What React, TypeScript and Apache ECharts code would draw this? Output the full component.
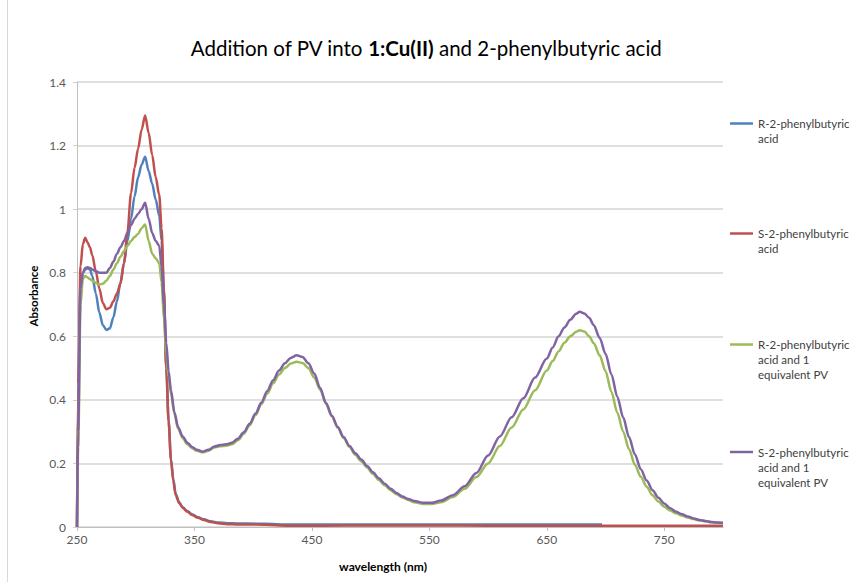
import React, { useEffect, useRef } from "react";
import * as echarts from "echarts";

// wavelengths (nm) for the ligand-only spectra
const wlA = [250, 251, 253, 255, 257, 259, 261, 263, 266, 269, 272, 275, 278, 281, 284, 287, 290, 293, 296, 299, 302, 305, 308, 311, 314, 317, 320, 322, 324, 326, 328, 330, 332, 334, 337, 340, 344, 348, 353, 358, 364, 370, 378, 386, 395, 410, 430, 460, 500, 550, 600, 650, 697, 750, 800];

const rAcid = [0, 0.4, 0.76, 0.8, 0.81, 0.815, 0.81, 0.79,
  0.735, 0.675, 0.635, 0.62, 0.625, 0.66, 0.71, 0.77,
  0.83, 0.9, 0.97, 1.04, 1.1, 1.14, 1.165, 1.12, 1.08, 1.03, 0.98,
  0.9, 0.74, 0.5, 0.335, 0.215, 0.15, 0.105, 0.078, 0.062, 0.05, 0.04,
  0.031, 0.024, 0.018, 0.014, 0.012, 0.011, 0.011,
  0.01, 0.008, 0.008, 0.008, 0.008, 0.008, 0.008, 0.008];

const sAcid = [0, 0.45, 0.82, 0.89, 0.91, 0.895, 0.88, 0.855,
  0.805, 0.75, 0.705, 0.685, 0.69, 0.71, 0.735, 0.765,
  0.83, 0.93, 1.05, 1.13, 1.19, 1.25, 1.295, 1.24, 1.17, 1.1, 1.045,
  0.94, 0.75, 0.5, 0.33, 0.21, 0.145, 0.1, 0.075, 0.06, 0.048, 0.038,
  0.029, 0.022, 0.016, 0.012, 0.009, 0.008, 0.008,
  0.007, 0.004, 0.004, 0.005, 0.005, 0.004, 0.004, 0.004, 0.004, 0.004];

// wavelengths (nm) for the spectra with 1 equivalent PV
const wlB = [250, 251, 253, 255, 257, 259, 261, 263, 266, 269, 272, 275, 278, 281, 284, 287, 290, 293, 296, 299, 302, 305, 308, 311, 314, 317, 320, 322, 324, 326, 328, 330, 333, 336, 340, 344, 348, 352, 357, 362, 367, 372, 377, 382, 387, 392, 397, 402, 407, 412, 417, 422, 427, 432, 437, 442, 447, 452, 457, 462, 467, 472, 477, 482, 487, 492, 497, 502, 507, 512, 517, 522, 527, 532, 537, 545, 552, 560, 570, 580, 590, 600, 610, 620, 630, 640, 650, 655, 660, 665, 670, 675, 678, 682, 686, 690, 695, 700, 705, 710, 715, 720, 725, 730, 735, 740, 745, 750, 755, 760, 765, 770, 775, 780, 785, 790, 795, 800];

const rAcidPV = [0, 0.25, 0.7, 0.78, 0.79, 0.785, 0.78, 0.775,
  0.768, 0.763, 0.765, 0.775, 0.79, 0.81, 0.83, 0.85,
  0.868, 0.885, 0.9, 0.912, 0.922, 0.94, 0.952, 0.9, 0.86, 0.845, 0.83,
  0.77, 0.66, 0.55, 0.47, 0.42, 0.355, 0.31,
  0.28, 0.26, 0.248, 0.24, 0.235, 0.24, 0.25, 0.254, 0.256, 0.26,
  0.273, 0.293, 0.32, 0.352, 0.386, 0.42, 0.452, 0.48, 0.5, 0.514,
  0.52, 0.516, 0.5, 0.47, 0.432, 0.388, 0.348, 0.312, 0.28, 0.252,
  0.227, 0.207, 0.187, 0.167, 0.148, 0.131, 0.116, 0.103, 0.093, 0.085, 0.078,
  0.072, 0.072, 0.078, 0.094, 0.12, 0.157,
  0.2, 0.255, 0.313, 0.37, 0.43, 0.492, 0.522, 0.552, 0.58, 0.6, 0.614, 0.619,
  0.615, 0.6, 0.578, 0.54, 0.49, 0.425, 0.36, 0.3, 0.245, 0.196, 0.158, 0.127, 0.1, 0.08, 0.064,
  0.052, 0.043, 0.036, 0.03, 0.025, 0.021, 0.018, 0.015, 0.013, 0.012];

const sAcidPV = [0, 0.3, 0.75, 0.8, 0.815, 0.817, 0.815, 0.81,
  0.805, 0.8, 0.8, 0.8, 0.815, 0.835, 0.86, 0.88,
  0.9, 0.925, 0.95, 0.97, 0.985, 1.0, 1.02, 0.97, 0.925, 0.9, 0.885,
  0.82, 0.7, 0.58, 0.49, 0.43, 0.36, 0.315,
  0.285, 0.265, 0.252, 0.243, 0.237, 0.243, 0.253, 0.258, 0.26, 0.265,
  0.278, 0.298, 0.325, 0.357, 0.392, 0.428, 0.462, 0.492, 0.515, 0.532,
  0.54, 0.535, 0.515, 0.483, 0.437, 0.39, 0.35, 0.315, 0.283, 0.255,
  0.232, 0.212, 0.192, 0.172, 0.153, 0.136, 0.12, 0.107, 0.096, 0.088, 0.082,
  0.076, 0.076, 0.083, 0.1, 0.128, 0.17,
  0.225, 0.285, 0.345, 0.405, 0.47, 0.53, 0.565, 0.6, 0.628, 0.652, 0.671, 0.677,
  0.672, 0.658, 0.635, 0.595, 0.545, 0.48, 0.41, 0.345, 0.283, 0.228, 0.182, 0.146, 0.116, 0.092, 0.074,
  0.059, 0.048, 0.04, 0.033, 0.027, 0.022, 0.019, 0.016, 0.014, 0.013];

const seriesNames = [
  "R-2-phenylbutyric acid",
  "S-2-phenylbutyric acid",
  "R-2-phenylbutyric acid and 1 equivalent PV",
  "S-2-phenylbutyric acid and 1 equivalent PV",
];
const legendLines = [
  ["R-2-phenylbutyric", "acid"],
  ["S-2-phenylbutyric", "acid"],
  ["R-2-phenylbutyric", "acid and 1", "equivalent PV"],
  ["S-2-phenylbutyric", "acid and 1", "equivalent PV"],
];
const colors = ["#4F81BD", "#C0504D", "#9BBB59", "#8064A2"];
const xTicks = [250, 350, 450, 550, 650, 750];

const pairs = (xs: number[], ys: number[]) => ys.map((y, i) => [xs[i], y]);

export default function App() {
  const ref = useRef<HTMLDivElement>(null);
  useEffect(() => {
    if (!ref.current) return;
    const chart = echarts.init(ref.current, undefined, { renderer: "svg" });
    const font = "Lato, 'Open Sans', sans-serif";
    const dataSets = [pairs(wlA, rAcid), pairs(wlA, sAcid), pairs(wlB, rAcidPV), pairs(wlB, sAcidPV)];
    const legendIconY = [123.5, 233.5, 344.5, 452];
    const LH = 15;
    const legends = seriesNames.map((name, i) => {
      const lines = legendLines[i];
      // blank lines on top keep the first text line level with the icon
      const padded = [...Array(lines.length - 1).fill(" "), ...lines];
      const h = padded.length * LH;
      return {
        data: [name],
        orient: "vertical",
        left: 730,
        top: legendIconY[i] - h / 2,
        padding: 0,
        icon: "rect",
        itemWidth: 23,
        itemHeight: 2.5,
        selectedMode: false,
        formatter: () => padded.join("\n"),
        textStyle: {
          fontFamily: font,
          fontSize: 11.5,
          color: "#404040",
          lineHeight: LH,
        },
      };
    });
    chart.setOption({
      animation: false,
      backgroundColor: "#ffffff",
      color: colors,
      title: {
        text: "Addition of PV into {b|1:Cu(II)} and 2-phenylbutyric acid",
        left: "center",
        top: 32,
        textStyle: {
          fontFamily: font,
          fontSize: 20.5,
          fontWeight: "normal",
          color: "#000",
          rich: { b: { fontFamily: font, fontSize: 20.5, fontWeight: "bold", color: "#000" } },
        },
      },
      legend: legends,
      grid: { left: 77, right: 129, top: 82, bottom: 55 },
      xAxis: {
        type: "value",
        min: 250,
        max: 800,
        interval: 100,
        axisLine: { show: true, lineStyle: { color: "#bfbfbf", width: 1 } },
        axisTick: { show: true, length: 4, lineStyle: { color: "#bfbfbf" }, customValues: xTicks },
        axisLabel: { fontFamily: font, fontSize: 12, color: "#595959", margin: 6, customValues: xTicks },
        splitLine: { show: false },
      },
      yAxis: {
        type: "value",
        min: 0,
        max: 1.4,
        interval: 0.2,
        axisLine: { show: true, lineStyle: { color: "#bfbfbf", width: 1 } },
        axisTick: { show: true, length: 4, lineStyle: { color: "#d0d0d0" } },
        axisLabel: { fontFamily: font, fontSize: 12, color: "#595959", margin: 11 },
        splitLine: { show: true, lineStyle: { color: "#d4d4d4", width: 1.5 } },
      },
      graphic: [
        { type: "line", shape: { x1: 7.5, y1: 0, x2: 7.5, y2: 582 }, style: { stroke: "#d9d9d9", lineWidth: 1 } },
        {
          type: "text",
          x: 33,
          y: 296,
          rotation: Math.PI / 2,
          style: { text: "Absorbance", fontFamily: font, fontSize: 11.5, fontWeight: "bold", fill: "#000", align: "center", verticalAlign: "middle" },
        },
        {
          type: "text",
          x: 383,
          y: 566,
          style: { text: "wavelength (nm)", fontFamily: font, fontSize: 12, fontWeight: "bold", fill: "#000", align: "center", verticalAlign: "middle" },
        },
      ],
      series: seriesNames.map((name, i) => ({
        name,
        type: "line",
        data: dataSets[i],
        symbol: "none",
        smooth: 0.3,
        smoothMonotone: "x",
        lineStyle: { width: 2.5, color: colors[i] },
        itemStyle: { color: colors[i] },
        z: 2 + i,
      })),
    });
    return () => chart.dispose();
  }, []);
  return (
    <div
      ref={ref}
      style={{ position: "fixed", left: 0, top: 0, width: 852, height: 582, background: "#fff" }}
    />
  );
}
